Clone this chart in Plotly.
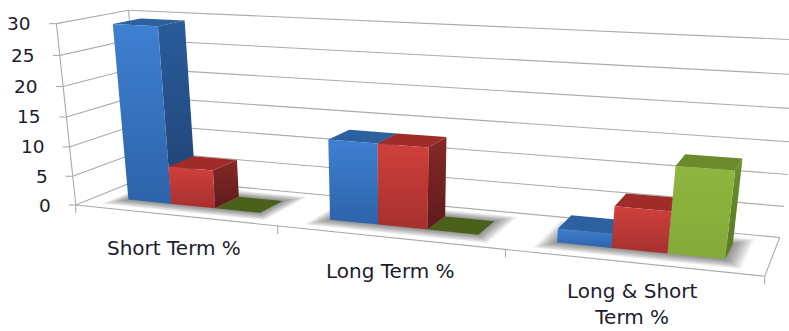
import numpy as np
import plotly.graph_objects as go

# ---- data ----
categories = ["Short Term %", "Long Term %", "Long & Short<br>Term %"]
series_blue = [29.5, 13.2, 2.2]
series_red = [6.5, 13.2, 6.5]
series_green = [0, 0, 13.3]
value_ticks = [0, 5, 10, 15, 20, 25, 30]

# ---- styles (gradient pairs run bottom colour, top colour) ----
PALETTE = [
    dict(front=("#2d63a9", "#3f80d2"), side=("#1e4273", "#2a5c9b"), top="#2c609f", flat="#2c609f"),
    dict(front=("#a5302e", "#d0403c"), side=("#5f1b1b", "#862826"), top="#a02c2a", flat="#a02c2a"),
    dict(front=("#84a93a", "#8fb63f"), side=("#5b7a24", "#6d8e2c"), top="#6b8a2b", flat="#4b601a"),
]
GRID = "#ababab"
TEXT = "#1c1c2c"
FONT = "DejaVu Sans"

# ---- 3-D box projection (x: category axis, y: depth, z: value) ----
box_world = np.array([
    [0, 0, 0], [1, 0, 0], [2, 0, 0], [3, 0, 0],
    [3, 1, 0], [0, 1, 0],
    [0, 0, 30], [0, 1, 30], [3, 1, 30], [3, 0, 30],
], dtype=float)
box_screen = np.array([
    [76, 205], [277, 227], [505, 250], [765, 275],
    [780, 237], [143, 178],
    [57, 23], [128, 10], [805, 41], [792, 60],
], dtype=float)


def fit_camera(world, screen):
    rows = []
    for (x, y, z), (u, v) in zip(world / [3, 1, 30], screen):
        rows.append([x, y, z, 1, 0, 0, 0, 0, -u * x, -u * y, -u * z, -u])
        rows.append([0, 0, 0, 0, x, y, z, 1, -v * x, -v * y, -v * z, -v])
    return np.linalg.svd(np.array(rows))[2][-1].reshape(3, 4)


CAMERA = fit_camera(box_world, box_screen)


def project(points):
    pts = np.asarray(points, dtype=float) / [3, 1, 30]
    hom = CAMERA @ np.c_[pts, np.ones(len(pts))].T
    return hom[0] / hom[2], hom[1] / hom[2]


fig = go.Figure()


def polygon(points, color=None, gradient=None):
    xs, ys = project(points)
    kw = dict(fillcolor=color) if gradient is None else dict(
        fillgradient=dict(type="vertical", colorscale=[[0, gradient[0]], [1, gradient[1]]]))
    fig.add_trace(go.Scatter(x=list(xs) + [xs[0]], y=list(ys) + [ys[0]], mode="lines", fill="toself",
                             line=dict(width=0), hoverinfo="skip", showlegend=False, **kw))


def lines(segments, width=1.1):
    xs, ys = [], []
    for a, b in segments:
        px, py = project([a, b])
        xs += [px[0], px[1], None]
        ys += [py[0], py[1], None]
    fig.add_trace(go.Scatter(x=xs, y=ys, mode="lines", line=dict(color=GRID, width=width),
                             hoverinfo="skip", showlegend=False))


# walls and floor outline
lines([((0, 1, v), (3, 1, v)) for v in value_ticks])
lines([((0, 0, v), (0, 1, v)) for v in value_ticks])
lines([((0, 0, 0), (0, 0, 30)), ((0, 1, 0), (0, 1, 30)),
       ((0, 0, 0), (3, 0, 0)), ((3, 0, 0), (3, 1, 0))])

# tick marks
tick_x, tick_y = [], []
for i in range(4):
    px, py = project([(i, 0, 0)])
    tick_x += [px[0], px[0], None]
    tick_y += [py[0], py[0] + 8, None]
for v in value_ticks:
    px, py = project([(0, 0, v)])
    tick_x += [px[0] - 7, px[0], None]
    tick_y += [py[0], py[0], None]
fig.add_trace(go.Scatter(x=tick_x, y=tick_y, mode="lines", line=dict(color=GRID, width=1.1),
                         hoverinfo="skip", showlegend=False))

# clustered bar layout inside each category slot
BAR_W = 1 / 4.5
GAP = BAR_W * 0.75
DEPTH = (0.3, 0.7)

# soft floor shadow under each cluster
for i in range(len(categories)):
    x0, x1 = i + GAP, i + GAP + 3 * BAR_W
    for k in range(12, 0, -1):
        ex, ey = 0.006 * k, 0.016 * k
        polygon([(x0 - ex, DEPTH[0] - ey, 0), (x1 + ex, DEPTH[0] - ey, 0),
                 (x1 + ex, DEPTH[1] + ey, 0), (x0 - ex, DEPTH[1] + ey, 0)],
                color="rgba(40,40,40,0.05)")

# bars, painted left to right so nearer faces cover the earlier ones
for i in range(len(categories)):
    for s, values in enumerate([series_blue, series_red, series_green]):
        h = values[i]
        style = PALETTE[s]
        x0 = i + GAP + s * BAR_W
        x1 = x0 + BAR_W
        y0, y1 = DEPTH
        top = [(x0, y0, h), (x1, y0, h), (x1, y1, h), (x0, y1, h)]
        if h == 0:
            polygon(top, color=style["flat"])
            continue
        polygon([(x1, y0, 0), (x1, y1, 0), (x1, y1, h), (x1, y0, h)], gradient=style["side"])
        polygon(top, color=style["top"])
        polygon([(x0, y0, 0), (x1, y0, 0), (x1, y0, h), (x0, y0, h)], gradient=style["front"])

# value labels beside the front wall edge
annotations = []
for v in value_ticks:
    px, py = project([(0, 0, v)])
    annotations.append(dict(x=px[0] - 23, y=py[0], text=str(v), xanchor="right", yanchor="middle",
                            showarrow=False, font=dict(family=FONT, size=18.5, color=TEXT)))

# category labels centred under each slot
label_offsets = [(0, 33), (2, 34), (2, 42)]
for i, name in enumerate(categories):
    px, py = project([(i + 0.5, 0, 0)])
    annotations.append(dict(x=px[0] + label_offsets[i][0], y=py[0] + label_offsets[i][1], text=name,
                            xanchor="center", yanchor="middle", showarrow=False, align="center",
                            font=dict(family=FONT, size=20, color=TEXT)))

fig.update_layout(
    width=789, height=331, margin=dict(l=0, r=0, t=0, b=0),
    paper_bgcolor="white", plot_bgcolor="white", showlegend=False, annotations=annotations,
    xaxis=dict(range=[0, 789], visible=False, fixedrange=True),
    yaxis=dict(range=[331, 0], visible=False, fixedrange=True),
)
fig.write_html("out.html")
